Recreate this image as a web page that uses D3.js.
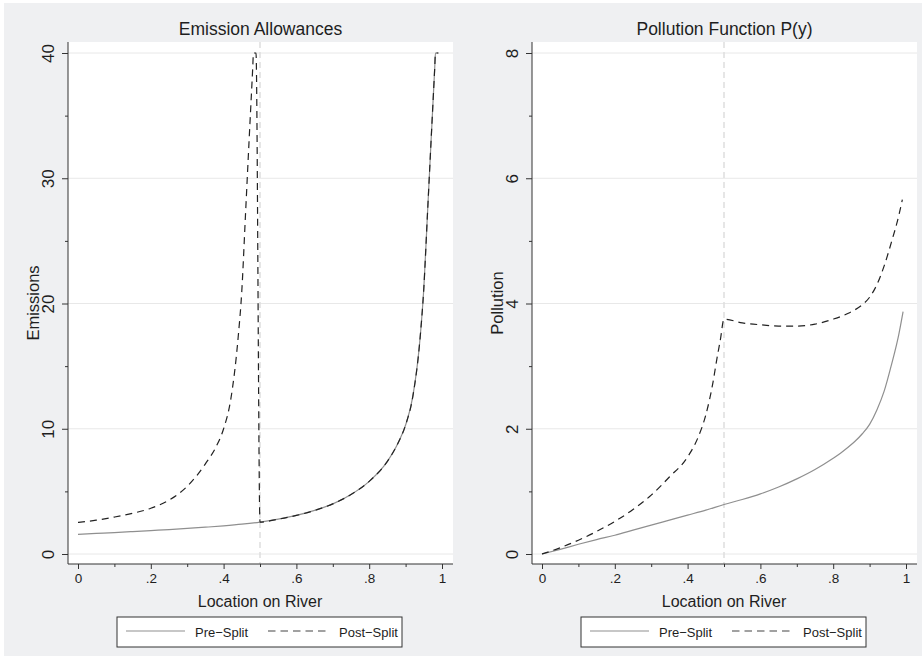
<!DOCTYPE html>
<html>
<head>
<meta charset="utf-8">
<script src="https://cdn.jsdelivr.net/npm/d3@7"></script>
<style>
  body { margin: 0; background: #fff; }
  text { font-family: "Liberation Sans", Arial, sans-serif; fill: #1e1e1e; }
</style>
</head>
<body>
<div id="chart"></div>
<script>
// Emission allowances (left panel)
const emisPreX = [0, .05, .1, .15, .2, .25, .3, .35, .4, .45, .5, .55, .6, .65, .7, .75, .8, .85, .88, .9, .92, .94, .95, .96, .97, .98, .982, .99];
const emisPreY = [1.57, 1.64, 1.71, 1.79, 1.87, 1.95, 2.04, 2.14, 2.25, 2.38, 2.55, 2.78, 3.08, 3.48, 4.0, 4.75, 5.8, 7.4, 8.9, 10.3, 12.6, 17.3, 21.2, 27.1, 33, 38.8, 40, 40];
const emisPostX = [0, .05, .1, .15, .2, .25, .3, .35, .38, .4, .42, .44, .45, .46, .47, .48, .482, .489, .5, .55, .6, .65, .7, .75, .8, .85, .88, .9, .92, .94, .95, .96, .97, .98, .982, .99];
const emisPostY = [2.52, 2.7, 2.95, 3.25, 3.65, 4.3, 5.4, 7.2, 8.6, 10, 12.4, 17.3, 21, 27, 33, 38.8, 40, 40, 2.55, 2.78, 3.08, 3.48, 4.0, 4.75, 5.8, 7.4, 8.9, 10.3, 12.6, 17.3, 21.2, 27.1, 33, 38.8, 40, 40];

// Pollution function (right panel)
const polPreX = [0, .05, .1, .15, .2, .25, .3, .35, .4, .45, .5, .55, .6, .65, .7, .75, .8, .82, .84, .86, .88, .9, .92, .94, .96, .98, .992];
const polPreY = [0, .075, .155, .23, .30, .38, .46, .54, .62, .70, .79, .87, .96, 1.07, 1.2, 1.35, 1.53, 1.61, 1.7, 1.8, 1.92, 2.07, 2.3, 2.6, 3.02, 3.5, 3.87];
const polPostX = [0, .05, .1, .15, .2, .25, .3, .35, .4, .43, .45, .47, .48, .49, .5, .55, .6, .65, .7, .75, .8, .82, .84, .86, .88, .9, .92, .94, .96, .98, .99];
const polPostY = [0, .1, .22, .36, .52, .71, .94, 1.23, 1.55, 1.88, 2.22, 2.75, 3.1, 3.42, 3.75, 3.69, 3.66, 3.64, 3.64, 3.67, 3.75, 3.79, 3.84, 3.9, 3.98, 4.1, 4.3, 4.6, 4.98, 5.4, 5.66];

const xTicks = [0, .2, .4, .6, .8, 1];
const xMinor = [.1, .3, .5, .7, .9];
const emisTicks = [0, 10, 20, 30, 40];
const emisMinor = [5, 15, 25, 35];
const polTicks = [0, 2, 4, 6, 8];
const polMinor = [1, 3, 5, 7];
const seriesNames = ["Pre\u2212Split", "Post\u2212Split"];
const splitPoint = 0.5;

const width = 922, height = 656;

const svg = d3.select("#chart")
  .append("svg")
  .attr("width", width)
  .attr("height", height);

// graph region background
svg.append("rect")
  .attr("x", 4).attr("y", 3)
  .attr("width", width - 4).attr("height", height - 3)
  .attr("fill", "#eff0f2");

const fmtX = d => d === 0 ? "0" : d === 1 ? "1" : String(d).replace(/^0/, "");

function drawPanel(opts) {
  const left = opts.left; // plot region left edge
  const top = 42, bottom = 564, plotW = 385;

  const x = d3.scaleLinear().domain([0, 1]).range([left + 10, left + 374]);
  const y = d3.scaleLinear().domain(opts.yDomain).range([554, 53]);

  const g = svg.append("g");

  g.append("rect")
    .attr("x", left).attr("y", top)
    .attr("width", plotW).attr("height", bottom - top)
    .attr("fill", "#fff");

  // gridlines
  g.selectAll(".grid")
    .data(opts.yTicks)
    .enter()
    .append("line")
    .attr("x1", left).attr("x2", left + plotW)
    .attr("y1", d => y(d)).attr("y2", d => y(d))
    .attr("stroke", "#e8e8e8")
    .attr("stroke-width", 1);

  // split marker
  g.append("line")
    .attr("x1", x(splitPoint)).attr("x2", x(splitPoint))
    .attr("y1", top).attr("y2", bottom)
    .attr("stroke", "#dedede")
    .attr("stroke-width", 1.5)
    .attr("stroke-dasharray", "6,4");

  const line = d3.line()
    .x(d => x(d[0]))
    .y(d => y(d[1]))
    .curve(d3.curveMonotoneX);

  g.append("path")
    .datum(d3.zip(opts.preX, opts.preY))
    .attr("d", line)
    .attr("fill", "none")
    .attr("stroke", "#8f8f8f")
    .attr("stroke-width", 1.2);

  g.append("path")
    .datum(d3.zip(opts.postX, opts.postY))
    .attr("d", line)
    .attr("fill", "none")
    .attr("stroke", "#222")
    .attr("stroke-width", 1.2)
    .attr("stroke-dasharray", "7,5");

  // axes
  const xAxis = g.append("g")
    .attr("transform", `translate(0,${bottom})`)
    .call(d3.axisBottom(x).tickValues(xTicks).tickSize(5).tickPadding(4).tickFormat(fmtX));
  g.append("g")
    .attr("transform", `translate(0,${bottom})`)
    .call(d3.axisBottom(x).tickValues(xMinor).tickSize(3).tickFormat(""))
    .call(a => a.select(".domain").remove());
  xAxis.select(".domain").remove();
  xAxis.selectAll("text")
    .attr("font-size", 13.5)
    .attr("fill", "#1e1e1e");

  const yAxis = g.append("g")
    .attr("transform", `translate(${left},0)`)
    .call(d3.axisLeft(y).tickValues(opts.yTicks).tickSize(6).tickFormat(d3.format("d")));
  g.append("g")
    .attr("transform", `translate(${left},0)`)
    .call(d3.axisLeft(y).tickValues(opts.yMinor).tickSize(3).tickFormat(""))
    .call(a => a.select(".domain").remove());
  yAxis.select(".domain").remove();
  yAxis.selectAll("text")
    .attr("font-size", 17)
    .attr("x", 0)
    .attr("y", -14)
    .attr("dy", 0)
    .attr("text-anchor", "middle")
    .attr("transform", "rotate(-90)");

  g.selectAll(".tick line").attr("stroke", "#333");

  g.append("line")
    .attr("x1", left).attr("x2", left + plotW)
    .attr("y1", bottom).attr("y2", bottom)
    .attr("stroke", "#333");
  g.append("line")
    .attr("x1", left).attr("x2", left)
    .attr("y1", top).attr("y2", bottom)
    .attr("stroke", "#333");

  // titles
  g.append("text")
    .attr("x", left + plotW / 2)
    .attr("y", 35)
    .attr("text-anchor", "middle")
    .attr("font-size", 17.5)
    .text(opts.title);

  g.append("text")
    .attr("x", left + 192)
    .attr("y", 607)
    .attr("text-anchor", "middle")
    .attr("font-size", 16)
    .text("Location on River");

  g.append("text")
    .attr("transform", `translate(${left - 29},${(top + bottom) / 2}) rotate(-90)`)
    .attr("text-anchor", "middle")
    .attr("font-size", 16.5)
    .text(opts.yLabel);

  // legend
  const lx = left + 49, ly = 617;
  const leg = g.append("g").attr("transform", `translate(${lx},${ly})`);
  leg.append("rect")
    .attr("width", 285).attr("height", 30)
    .attr("fill", "#fff")
    .attr("stroke", "#333");
  leg.append("line")
    .attr("x1", 9).attr("x2", 68).attr("y1", 14).attr("y2", 14)
    .attr("stroke", "#8f8f8f").attr("stroke-width", 1.2);
  leg.append("text")
    .attr("x", 78).attr("y", 19.5)
    .attr("font-size", 13)
    .text(seriesNames[0]);
  leg.append("line")
    .attr("x1", 151).attr("x2", 213).attr("y1", 14).attr("y2", 14)
    .attr("stroke", "#444").attr("stroke-width", 1.2)
    .attr("stroke-dasharray", "7.5,5");
  leg.append("text")
    .attr("x", 222).attr("y", 19.5)
    .attr("font-size", 13)
    .text(seriesNames[1]);
}

drawPanel({
  left: 68,
  title: "Emission Allowances",
  yLabel: "Emissions",
  yDomain: [0, 40],
  yTicks: emisTicks,
  yMinor: emisMinor,
  preX: emisPreX, preY: emisPreY,
  postX: emisPostX, postY: emisPostY
});

drawPanel({
  left: 532,
  title: "Pollution Function P(y)",
  yLabel: "Pollution",
  yDomain: [0, 8],
  yTicks: polTicks,
  yMinor: polMinor,
  preX: polPreX, preY: polPreY,
  postX: polPostX, postY: polPostY
});
</script>
</body>
</html>
